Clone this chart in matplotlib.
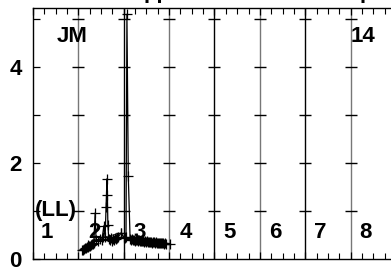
import matplotlib.pyplot as plt

plt.rcParams["font.family"] = ["Liberation Sans", "DejaVu Sans"]

# main trace (x in division units, y value)
trace_x = [1.08, 1.10, 1.12, 1.15, 1.17, 1.19, 1.21, 1.24, 1.26, 1.28, 1.30, 1.32, 1.34, 1.37,
           1.39, 1.43, 1.48, 1.52, 1.56, 1.59, 1.61, 1.63, 1.64, 1.65, 1.67, 1.70, 1.72, 1.74,
           1.76, 1.78, 1.81, 1.83, 1.85, 1.87, 1.94, 2.00, 2.05, 2.07, 2.10, 2.14, 2.16, 2.18,
           2.20, 2.22, 2.25, 2.27, 2.29, 2.31, 2.34, 2.36, 2.38, 2.40, 2.42, 2.44, 2.47, 2.49,
           2.51, 2.53, 2.56, 2.58, 2.60, 2.62, 2.64, 2.66, 2.69, 2.71, 2.73, 2.75, 2.78, 2.80,
           2.82, 2.84, 2.87, 2.89, 2.91, 2.93]
trace_y = [0.18, 0.19, 0.20, 0.22, 0.23, 0.24, 0.26, 0.27, 0.28, 0.30, 0.31, 0.32, 0.34, 0.96,
           0.40, 0.38, 0.42, 0.40, 0.68, 0.45, 1.08, 1.67, 1.33, 0.71, 0.42, 0.40, 0.43, 0.38,
           0.42, 0.40, 0.44, 0.41, 0.43, 0.45, 0.54, 0.45, 0.45, 5.10, 1.73, 0.42, 0.40, 0.41,
           0.39, 0.40, 0.38, 0.40, 0.39, 0.38, 0.39, 0.37, 0.38, 0.37, 0.38, 0.36, 0.37, 0.36,
           0.37, 0.35, 0.36, 0.35, 0.36, 0.34, 0.35, 0.35, 0.34, 0.35, 0.33, 0.34, 0.34, 0.33,
           0.34, 0.33, 0.34, 0.32, 0.33, 0.32]

# second sparse trace
side_x = [1.21, 1.54, 1.94, 2.02, 3.02]
side_y = [0.30, 0.45, 0.54, 0.44, 0.32]

divisions = [1, 2, 3, 4, 5, 6, 7]
div_colors = ["#777777", "black", "#777777", "black", "#777777", "black", "#777777"]
cross_levels = [1, 2, 3, 4, 5]
region_labels = ["1", "2", "3", "4", "5", "6", "7", "8"]
region_label_x = [0.31, 1.36, 2.35, 3.37, 4.33, 5.33, 6.32, 7.33]

fig = plt.figure(figsize=(3.91, 2.75), dpi=100)
ax = fig.add_axes([33 / 391, 16 / 275, 363 / 391, 251 / 275])
ax.set_xlim(0, 8)
ax.set_ylim(0, 5.23)

for xd, c in zip(divisions, div_colors):
    ax.axvline(xd, color=c, lw=1.0, zorder=1)
    ax.plot([xd] * len(cross_levels), cross_levels, ls="none", marker="_",
            ms=8, mew=1.0, color="black", zorder=2)

ax.plot(trace_x, trace_y, color="black", lw=0.9, marker="+", ms=7, mew=0.9, zorder=3)
ax.plot(side_x, side_y, color="black", lw=0.6, marker="+", ms=7, mew=0.9, zorder=3)

for lab, xl in zip(region_labels, region_label_x):
    ax.text(xl, 0.44, lab, ha="center", va="baseline", fontsize=16, fontweight="bold")
ax.text(0.04, 0.9, "(LL)", ha="left", va="baseline", fontsize=16, fontweight="bold")
ax.text(0.53, 4.52, "JM", ha="left", va="baseline", fontsize=16, fontweight="bold")
ax.text(6.99, 4.52, "14", ha="left", va="baseline", fontsize=16, fontweight="bold")

# title sits above the crop; only its descenders show
fig.text(143.5 / 391, 1.006, "pp", ha="left", va="baseline", fontsize=16, fontweight="bold")
fig.text(359.5 / 391, 1.006, "p", ha="left", va="baseline", fontsize=16, fontweight="bold")

ax.set_yticks([0, 2, 4])
ax.set_yticks([1, 3, 5], minor=True)
ax.set_xticks(range(0, 9))
ax.set_xticks([i * 0.25 for i in range(33)], minor=True)
ax.set_xticklabels([])
ax.tick_params(axis="y", which="both", direction="in", length=5, width=0.9,
               labelsize=16, pad=8)
ax.tick_params(axis="x", which="major", direction="in", length=5, width=0.9,
               top=True, bottom=True)
ax.tick_params(axis="x", which="minor", direction="in", length=4, width=0.8,
               top=True, bottom=True)
for lab in ax.get_yticklabels():
    lab.set_fontweight("bold")
for s in ax.spines.values():
    s.set_linewidth(1.0)

fig.savefig("out.png", dpi=100)
